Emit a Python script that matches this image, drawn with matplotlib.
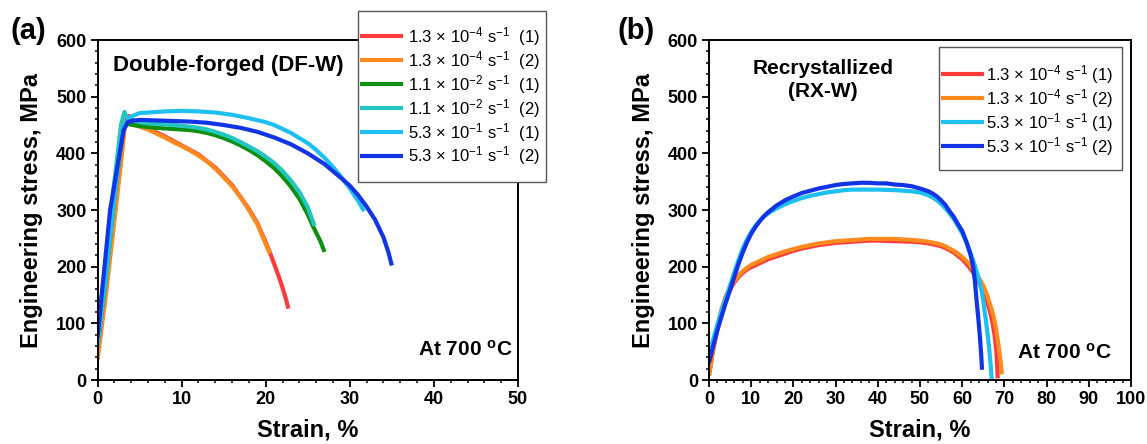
import numpy as np
import matplotlib
matplotlib.use("Agg")
import matplotlib.pyplot as plt
from matplotlib.ticker import MultipleLocator
from matplotlib.patches import Rectangle

plt.rcParams['font.family'] = ['Liberation Sans', 'DejaVu Sans']
plt.rcParams['mathtext.fontset'] = 'custom'
plt.rcParams['mathtext.rm'] = 'Liberation Sans'
plt.rcParams['mathtext.bf'] = 'Liberation Sans:bold'
plt.rcParams['mathtext.default'] = 'regular'

# ---- (a) double-forged, strain % / stress MPa ----
a_labels = [r"1.3 × 10$^{-4}$ s$^{-1}$  (1)", r"1.3 × 10$^{-4}$ s$^{-1}$  (2)",
            r"1.1 × 10$^{-2}$ s$^{-1}$  (1)", r"1.1 × 10$^{-2}$ s$^{-1}$  (2)",
            r"5.3 × 10$^{-1}$ s$^{-1}$  (1)", r"5.3 × 10$^{-1}$ s$^{-1}$  (2)"]
a_colors = ['#ff3b3b', '#ff8a1e', '#0e8f12', '#22c6bf', '#1ec0f2', '#1034e6']

a_red_x = [0, 1, 2, 3, 3.3, 3.7, 4.5, 6, 8, 10, 12, 14, 16, 18, 19, 20, 20.5, 21, 21.5, 22, 22.4, 22.7]
a_red_y = [55, 170, 290, 420, 462, 466, 455, 444, 430, 414, 398, 375, 344, 302, 277, 243, 225, 205, 185, 163, 143, 126]
a_org_x = [0, 1, 2, 3, 3.3, 4, 5, 6, 7, 8, 9, 10, 11, 12, 13, 14, 15, 16, 17, 18, 19, 20, 20.5]
a_org_y = [35, 150, 280, 410, 455, 452, 447, 442, 435, 428, 420, 413, 405, 396, 386, 373, 358, 342, 323, 300, 275, 240, 223]
a_grn_x = [0, 1, 2, 3, 3.5, 5, 7, 9, 11, 12, 13, 14, 15, 16, 17, 18, 19, 20, 21, 22, 23, 24, 25, 25.6, 26, 26.5, 27]
a_grn_y = [60, 180, 320, 440, 452, 448, 445, 443, 441, 439, 436, 432, 427, 421, 414, 406, 397, 386, 374, 359, 341, 320, 292, 272, 260, 245, 226]
a_tea_x = [0, 1, 2, 2.8, 3.2, 3.6, 5.4, 7, 9, 11, 12, 13, 14, 15, 16, 17, 18, 19, 20, 21, 22, 23, 24, 25, 25.8]
a_tea_y = [90, 210, 350, 450, 473, 460, 454, 452, 450, 447, 445, 442, 438, 433, 427, 420, 412, 404, 394, 383, 369, 352, 332, 305, 272]
a_lbl_x = [0, 1, 2, 3, 3.6, 4, 5, 6, 8, 10, 12, 14, 16, 18, 20, 21, 22, 23, 24, 25, 26, 27, 28, 29, 30, 31, 31.7]
a_lbl_y = [60, 180, 320, 440, 460, 465, 471, 472, 474, 475, 474, 472, 468, 462, 455, 450, 443, 436, 427, 418, 406, 392, 376, 358, 338, 316, 298]
a_blu_x = [0, 1.5, 3.1, 3.6, 4, 5, 7, 9, 11, 13, 15, 17, 19, 21, 23, 25, 27, 29, 30, 31, 32, 33, 34, 34.6, 35]
a_blu_y = [75, 300, 441, 455, 457, 459, 458, 457, 456, 454, 450, 445, 438, 428, 416, 400, 381, 356, 343, 326, 306, 283, 252, 225, 202]

# ---- (b) recrystallized ----
b_labels = [r"1.3 × 10$^{-4}$ s$^{-1}$ (1)", r"1.3 × 10$^{-4}$ s$^{-1}$ (2)",
            r"5.3 × 10$^{-1}$ s$^{-1}$ (1)", r"5.3 × 10$^{-1}$ s$^{-1}$ (2)"]
b_colors = ['#ff3b3b', '#ff8a1e', '#1ec0f2', '#1034e6']

b_red_x = [0, 0.5, 1, 2, 3, 4, 5, 6, 7, 8, 9, 10, 12, 14, 16, 18, 20, 22, 24, 26, 28, 30, 32, 34, 36,
           38, 40, 44, 48, 50, 52, 54, 55, 56, 57, 58, 59, 60, 61, 62, 63, 64, 65, 66, 66.6, 67.2,
           67.7, 68.1, 68.3, 68.4]
b_red_y = [8, 30, 53, 90, 122, 145, 160, 172, 182, 189, 195, 199, 206, 213, 218, 223, 228, 232, 235,
           238, 240, 242, 243, 244, 245, 246, 246, 245, 244, 243, 241, 238, 236, 233, 229, 225, 219,
           213, 205, 196, 185, 171, 155, 135, 120, 100, 78, 50, 25, 3]
b_org_x = [0, 0.5, 1, 2, 3, 4, 5, 6, 7, 8, 9, 10, 12, 14, 16, 18, 20, 22, 24, 26, 28, 30, 32, 34, 36,
           38, 40, 44, 48, 50, 52, 54, 55, 56, 57, 58, 59, 60, 61, 62, 63, 64, 65, 66, 67, 67.8,
           68.4, 68.9, 69.2, 69.4]
b_org_y = [8, 32, 55, 93, 126, 149, 163, 175, 185, 192, 198, 203, 210, 217, 222, 227, 231, 235, 238,
           241, 243, 245, 246, 247, 248, 249, 249, 249, 247, 246, 244, 241, 239, 236, 232, 228, 223,
           217, 210, 202, 192, 180, 166, 148, 124, 100, 72, 45, 25, 10]
b_lbl_x = [0, 1, 2, 3, 4, 5, 6, 7, 8, 9, 10, 11, 12, 13, 14, 16, 18, 20, 22, 24, 26, 28, 30, 32, 34,
           36, 40, 44, 48, 50, 52, 53, 54, 55, 56, 57, 58, 59, 60, 61, 62, 63, 63.8, 64.5, 65, 65.5,
           66, 66.4, 66.8, 67]
b_lbl_y = [45, 72, 98, 122, 145, 167, 190, 212, 232, 248, 261, 272, 281, 288, 294, 303, 310, 316,
           321, 325, 328, 331, 333, 335, 336, 336, 336, 335, 333, 331, 326, 322, 317, 311, 303, 294,
           284, 272, 259, 243, 224, 202, 182, 160, 138, 112, 82, 55, 22, 1]
b_blu_x = [0, 0.5, 1, 2, 3, 4, 5, 6, 7, 8, 9, 10, 11, 12, 13, 14, 16, 18, 20, 22, 24, 26, 28, 30, 32,
           34, 36, 38, 40, 42, 44, 46, 48, 50, 52, 53, 54, 55, 56, 57, 58, 59, 60, 61, 62, 62.6, 63,
           63.4, 63.8, 64.2, 64.5, 64.7]
b_blu_y = [30, 45, 60, 88, 113, 137, 159, 182, 205, 225, 243, 258, 270, 280, 289, 296, 308, 317, 324,
           330, 334, 338, 341, 344, 346, 347, 348, 348, 347, 347, 345, 344, 342, 338, 333, 329, 324,
           317, 309, 298, 288, 275, 263, 244, 220, 200, 175, 141, 110, 76, 45, 18]

a_series = [(a_red_x, a_red_y), (a_org_x, a_org_y), (a_grn_x, a_grn_y),
            (a_tea_x, a_tea_y), (a_lbl_x, a_lbl_y), (a_blu_x, a_blu_y)]
b_series = [(b_red_x, b_red_y), (b_org_x, b_org_y), (b_lbl_x, b_lbl_y), (b_blu_x, b_blu_y)]

fig = plt.figure(figsize=(11.47, 4.44), dpi=100)
W, H = 1147, 444
ax_a = fig.add_axes([97.5 / W, 1 - 380 / H, 420.5 / W, 340 / H])
ax_b = fig.add_axes([709 / W, 1 - 380 / H, 422 / W, 340 / H])


def style(ax, xmax, xminor):
    ax.set_xlim(0, xmax)
    ax.set_ylim(0, 600)
    ax.xaxis.set_major_locator(MultipleLocator(10))
    ax.xaxis.set_minor_locator(MultipleLocator(xminor))
    ax.yaxis.set_major_locator(MultipleLocator(100))
    ax.yaxis.set_minor_locator(MultipleLocator(20))
    ax.tick_params(which='major', direction='out', length=5, width=1.3, labelsize=13, pad=3)
    ax.tick_params(which='minor', direction='out', length=2.5, width=1.1)
    for lab in ax.get_xticklabels() + ax.get_yticklabels():
        lab.set_fontweight('bold')
    for s in ax.spines.values():
        s.set_linewidth(1.4)
    ax.set_xlabel("Strain, %", fontsize=17, fontweight='bold', va='center')
    ax.set_ylabel("Engineering stress, MPa", fontsize=17, fontweight='bold', va='center')
    ax.xaxis.set_label_coords(0.5, -0.147)
    ax.yaxis.set_label_coords(-0.156, 0.5)


style(ax_a, 50, 2)
style(ax_b, 100, 2)

a_handles = []
for (x, y), c in zip(a_series, a_colors):
    a_handles += ax_a.plot(x, y, color=c, lw=3, solid_capstyle='butt')
b_handles = []
for (x, y), c in zip(b_series, b_colors):
    b_handles += ax_b.plot(x, y, color=c, lw=3, solid_capstyle='butt')

# legend frames drawn as figure rectangles (box reaches over the axes edge in panel a)
for (x0, y0, x1, y1) in [(358, 11, 546, 182), (939, 47, 1122, 170)]:
    fig.patches.append(Rectangle((x0 / W, 1 - y1 / H), (x1 - x0) / W, (y1 - y0) / H,
                                 transform=fig.transFigure, facecolor='white',
                                 edgecolor='#555555', lw=1.0, zorder=5))

leg_a = fig.legend(a_handles, a_labels, loc='upper left', bbox_to_anchor=(360 / W, 1 - 25 / H),
                   bbox_transform=fig.transFigure, borderaxespad=0, borderpad=0, fontsize=12,
                   frameon=False, handlelength=2.6, handletextpad=0.25, labelspacing=0.06)
leg_a.set_zorder(6)
leg_b = fig.legend(b_handles, b_labels, loc='upper left', bbox_to_anchor=(941 / W, 1 - 63 / H),
                   bbox_transform=fig.transFigure, borderaxespad=0, borderpad=0, fontsize=12,
                   frameon=False, handlelength=2.6, handletextpad=0.1, labelspacing=0.06)
leg_b.set_zorder(6)

ax_a.text(0.037, 0.924, "Double-forged (DF-W)", transform=ax_a.transAxes,
          fontsize=16, fontweight='bold', va='center', ha='left')
ax_a.text(0.988, 0.09, r"At 700 $^{\mathbf{o}}$C", transform=ax_a.transAxes,
          fontsize=15, fontweight='bold', va='center', ha='right')
ax_b.text(0.27, 0.882, "Recrystallized\n(RX-W)", transform=ax_b.transAxes,
          fontsize=15, fontweight='bold', va='center', ha='center', linespacing=1.3)
ax_b.text(0.955, 0.079, r"At 700 $^{\mathbf{o}}$C", transform=ax_b.transAxes,
          fontsize=15, fontweight='bold', va='center', ha='right')

fig.text(10 / W, 1 - 31 / H, "(a)", fontsize=21, fontweight='bold', va='center', ha='left')
fig.text(618 / W, 1 - 31 / H, "(b)", fontsize=21, fontweight='bold', va='center', ha='left')

fig.savefig("out.png", dpi=100)
